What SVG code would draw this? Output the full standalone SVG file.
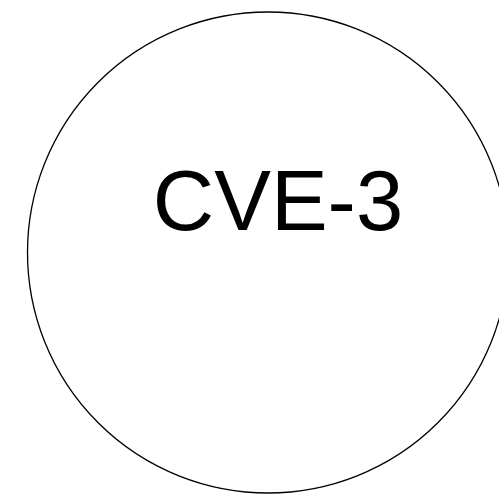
<svg xmlns="http://www.w3.org/2000/svg" width="499" height="494" viewBox="0 0 499 494">
<style>
.node{fill:#ffffff;stroke:#000000;stroke-width:1.3}
.label{font-family:"Liberation Sans",Arial,sans-serif;font-size:85px;fill:#000000}
</style>
<rect width="499" height="494" fill="#ffffff"/>
<g id="connectors"></g>
<g id="node-cve3">
<ellipse class="node" cx="268" cy="252.5" rx="240.5" ry="240.5"/>
<text class="label" x="278" y="230" text-anchor="middle">CVE-3</text>
</g>
</svg>
